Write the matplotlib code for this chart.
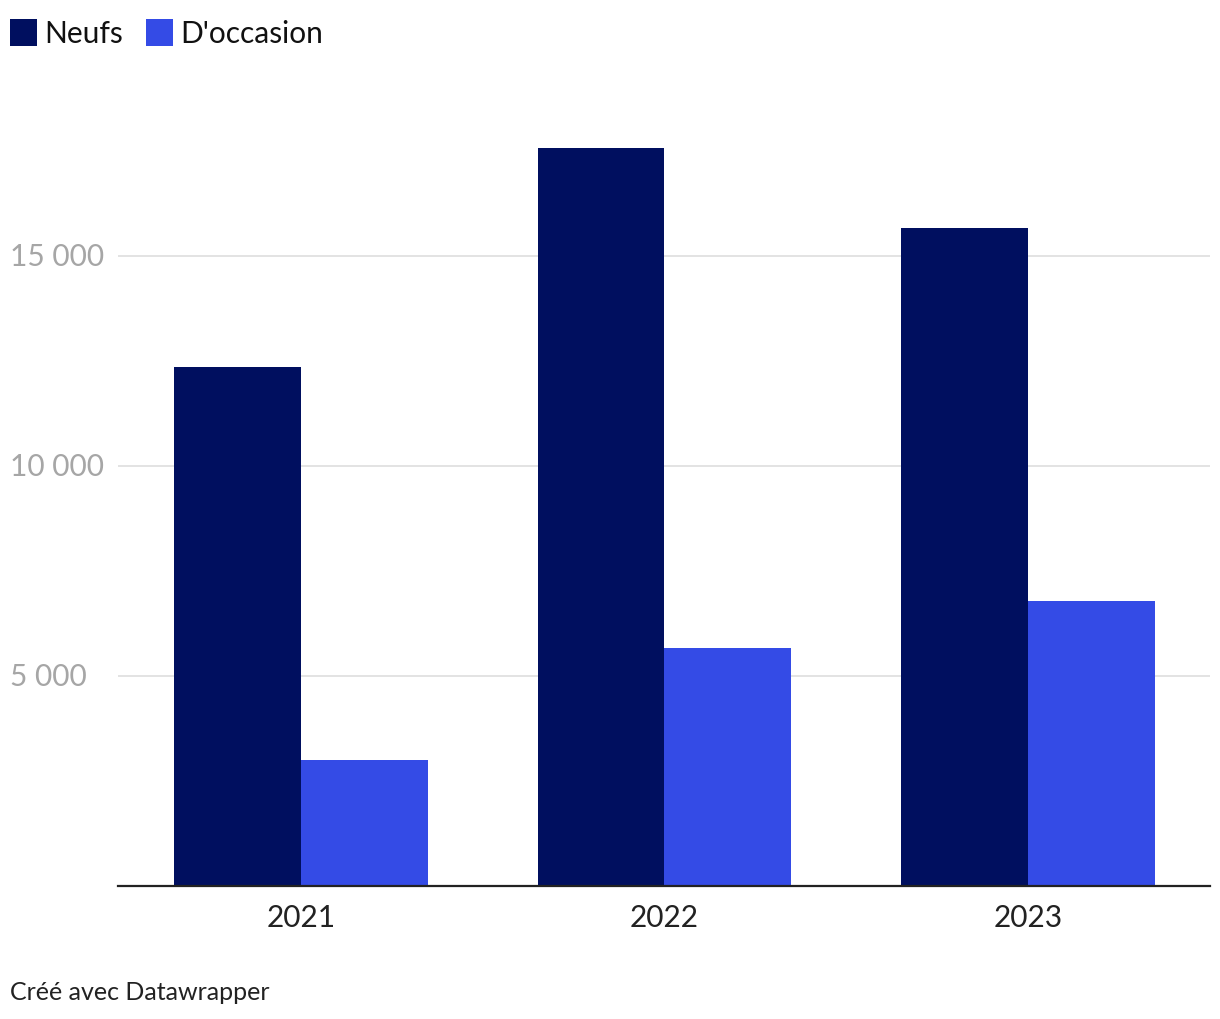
import matplotlib.pyplot as plt
from matplotlib.patches import Rectangle
from matplotlib.transforms import blended_transform_factory
import numpy as np

years = ["2021", "2022", "2023"]
neufs = [12360, 17570, 15670]
occasion = [3000, 5670, 6790]
series_names = ["Neufs", "D'occasion"]
yticks = [5000, 10000, 15000]
ytick_labels = ["5 000", "10 000", "15 000"]

c_neufs = "#000F5F"
c_occ = "#344BE6"

plt.rcParams['font.family'] = ['Lato', 'DejaVu Sans']

W, H = 1220, 1020
fig = plt.figure(figsize=(W / 100, H / 100), dpi=100)
ax = fig.add_axes([118 / W, 1 - 887 / H, (1210 - 118) / W, (887 - 110) / H])

x = np.arange(len(years))
w = 127 / 364
ax.bar(x - w / 2, neufs, width=w, color=c_neufs, zorder=3)
ax.bar(x + w / 2, occasion, width=w, color=c_occ, zorder=3)

ax.set_xlim(-183 / 364, 2 + 182 / 364)
ax.set_ylim(0, 18500)

for s in ["top", "right", "left"]:
    ax.spines[s].set_visible(False)
ax.spines["bottom"].set_color("#222222")
ax.spines["bottom"].set_linewidth(1.6)
ax.spines["bottom"].set_zorder(4)

ax.set_yticks(yticks)
ax.set_yticklabels([])
ax.tick_params(axis="y", length=0)
ax.grid(axis="y", color="#e3e3e3", linewidth=1.4, zorder=0)
tr = blended_transform_factory(fig.transFigure, ax.transData)
for v, lab in zip(yticks, ytick_labels):
    ax.text(10 / W, v, lab, transform=tr, ha="left", va="center",
            fontsize=21.5, color="#a6a6a6")

ax.set_xticks(x)
ax.set_xticklabels(years, fontsize=21.5, color="#222222")
ax.tick_params(axis="x", length=0, pad=12)

# legend
for name, col, lx in zip(series_names, [c_neufs, c_occ], [10, 146]):
    fig.add_artist(Rectangle((lx / W, 1 - 47 / H), 27 / W, 27 / H,
                             transform=fig.transFigure, color=col, linewidth=0))
    fig.text((lx + 34) / W, 1 - 34 / H, name, ha="left", va="center",
             fontsize=21.5, color="#111111")

fig.text(10 / W, 1 - 993 / H, "Créé avec Datawrapper", ha="left", va="center",
         fontsize=18, color="#222222")

fig.savefig("out.png", dpi=100)
